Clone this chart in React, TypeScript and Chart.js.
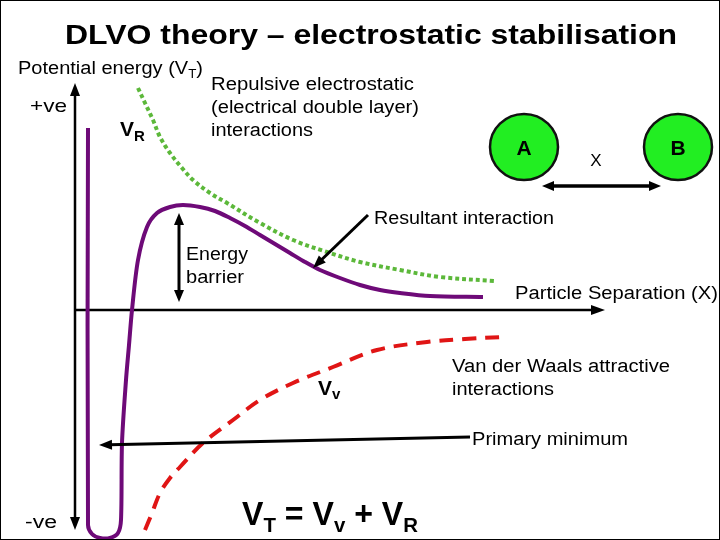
import React, { useEffect, useRef } from "react";
import { Chart, registerables } from "chart.js";
Chart.register(...registerables);

// Data units: x = particle separation, y = potential energy
const resultantX = [0.26, 0.26, 0.34, 0.5, 0.7, 0.86, 0.92, 0.94, 1.02, 1.08, 1.14, 1.26, 1.44, 1.64, 1.9, 2.16, 2.5, 2.8, 3.1, 3.4, 3.7, 4.0, 4.3, 4.6, 4.9, 5.3, 5.7, 6.1, 6.5, 7.1, 8.16];
const resultantY = [3.64, -4.3, -4.48, -4.56, -4.56, -4.46, -4.2, -2.66, -1.4, -0.7, 0, 1.0, 1.66, 1.94, 2.06, 2.1, 2.06, 1.98, 1.84, 1.68, 1.5, 1.32, 1.14, 0.96, 0.8, 0.64, 0.5, 0.4, 0.34, 0.28, 0.26];

const repulsiveX = [1.26, 1.4, 1.56, 1.7, 1.9, 2.14, 2.36, 2.7, 3.04, 3.7, 4.36, 5.04, 5.7, 6.5, 7.3, 8.4];
const repulsiveY = [4.44, 4.14, 3.8, 3.46, 3.14, 2.84, 2.6, 2.34, 2.14, 1.74, 1.4, 1.16, 0.96, 0.8, 0.66, 0.58];

const attractiveX = [1.4, 1.54, 1.7, 1.9, 2.1, 2.56, 3.16, 3.7, 4.36, 5.16, 6.04, 7.04, 7.8, 8.54];
const attractiveY = [-4.4, -4.06, -3.66, -3.36, -3.14, -2.66, -2.2, -1.8, -1.46, -1.14, -0.8, -0.64, -0.58, -0.54];

// Axis extents and annotations (data units)
const xAxisEnd = 10.6;
const yAxisTop = 4.54;
const yAxisBottom = -4.4;
const barrierArrow = { x: 2.08, y1: 1.94, y2: 0.16 };
const resultantArrow = { x1: 5.86, y1: 1.9, x2: 4.76, y2: 0.84 };
const minimumArrow = { x1: 7.9, y1: -2.54, x2: 0.48, y2: -2.7 };

const toPts = (xs: number[], ys: number[]) => xs.map((x, i) => ({ x, y: ys[i] }));

const FONT = '"Liberation Sans", Arial, sans-serif';

type Part = { t: string; size: number; bold?: boolean; dy?: number };

function drawRich(ctx: CanvasRenderingContext2D, parts: Part[], x: number, y: number, align: "left" | "center" = "left", fitWidth?: number) {
  ctx.save();
  ctx.textBaseline = "alphabetic";
  ctx.textAlign = "left";
  let total = 0;
  const widths = parts.map((p) => {
    ctx.font = `${p.bold ? "bold " : ""}${p.size}px ${FONT}`;
    const w = ctx.measureText(p.t).width;
    total += w;
    return w;
  });
  let sx = 1;
  if (fitWidth) sx = fitWidth / total;
  const start = align === "center" ? x - (total * sx) / 2 : x;
  ctx.translate(start, y);
  ctx.scale(sx, 1);
  let cx = 0;
  parts.forEach((p, i) => {
    ctx.font = `${p.bold ? "bold " : ""}${p.size}px ${FONT}`;
    ctx.fillText(p.t, cx, p.dy || 0);
    cx += widths[i];
  });
  ctx.restore();
}

function arrowHead(ctx: CanvasRenderingContext2D, fx: number, fy: number, tx: number, ty: number, len: number, half: number) {
  const a = Math.atan2(ty - fy, tx - fx);
  ctx.beginPath();
  ctx.moveTo(tx, ty);
  ctx.lineTo(tx - len * Math.cos(a) + half * Math.sin(a), ty - len * Math.sin(a) - half * Math.cos(a));
  ctx.lineTo(tx - len * Math.cos(a) - half * Math.sin(a), ty - len * Math.sin(a) + half * Math.cos(a));
  ctx.closePath();
  ctx.fill();
}

function arrow(ctx: CanvasRenderingContext2D, x1: number, y1: number, x2: number, y2: number, w: number, both = false, len = 12, half = 5) {
  const a = Math.atan2(y2 - y1, x2 - x1);
  ctx.lineWidth = w;
  ctx.beginPath();
  const sx = both ? x1 + Math.cos(a) * len * 0.8 : x1;
  const sy = both ? y1 + Math.sin(a) * len * 0.8 : y1;
  ctx.moveTo(sx, sy);
  ctx.lineTo(x2 - Math.cos(a) * len * 0.8, y2 - Math.sin(a) * len * 0.8);
  ctx.stroke();
  arrowHead(ctx, x1, y1, x2, y2, len, half);
  if (both) arrowHead(ctx, x2, y2, x1, y1, len, half);
}

const diagramPlugin = {
  id: "diagram",
  beforeDatasetsDraw(chart: any) {
    const ctx = chart.ctx as CanvasRenderingContext2D;
    const xs = chart.scales.x, ys = chart.scales.y;
    ctx.save();
    ctx.strokeStyle = "#000";
    ctx.fillStyle = "#000";
    const x0 = xs.getPixelForValue(0), y0 = ys.getPixelForValue(0);
    arrow(ctx, x0, ys.getPixelForValue(yAxisBottom), x0, ys.getPixelForValue(yAxisTop), 2.5, true, 13, 5);
    arrow(ctx, x0, y0, xs.getPixelForValue(xAxisEnd), y0, 2.5, false, 14, 5);
    ctx.restore();
  },
  afterDatasetsDraw(chart: any) {
    const ctx = chart.ctx as CanvasRenderingContext2D;
    const xs = chart.scales.x, ys = chart.scales.y;
    const X = (v: number) => xs.getPixelForValue(v);
    const Y = (v: number) => ys.getPixelForValue(v);
    ctx.save();
    ctx.fillStyle = "#000";
    ctx.strokeStyle = "#000";

    arrow(ctx, X(barrierArrow.x), Y(barrierArrow.y1), X(barrierArrow.x), Y(barrierArrow.y2), 3, true, 12, 5);
    arrow(ctx, X(resultantArrow.x1), Y(resultantArrow.y1), X(resultantArrow.x2), Y(resultantArrow.y2), 3, false, 13, 5);
    arrow(ctx, X(minimumArrow.x1), Y(minimumArrow.y1), X(minimumArrow.x2), Y(minimumArrow.y2), 3, false, 13, 5);

    const circles = [{ cx: 524, cy: 147, label: "A" }, { cx: 678, cy: 147, label: "B" }];
    circles.forEach((c) => {
      ctx.beginPath();
      ctx.ellipse(c.cx, c.cy, 34, 33, 0, 0, Math.PI * 2);
      ctx.fillStyle = "#22EE22";
      ctx.fill();
      ctx.lineWidth = 2.5;
      ctx.strokeStyle = "#111";
      ctx.stroke();
      ctx.fillStyle = "#000";
      drawRich(ctx, [{ t: c.label, size: 21, bold: true }], c.cx, c.cy + 7.5, "center");
    });
    ctx.strokeStyle = "#000";
    arrow(ctx, 542, 186, 661, 186, 3.5, true, 12, 5);

    drawRich(ctx, [{ t: "DLVO theory – electrostatic stabilisation", size: 28, bold: true }], 371, 44, "center", 612);
    drawRich(ctx, [{ t: "Potential energy (V", size: 18 }, { t: "T", size: 12, dy: 4 }, { t: ")", size: 18 }], 18, 74, "left", 185);
    drawRich(ctx, [{ t: "+ve", size: 19 }], 30, 112, "left", 37);
    drawRich(ctx, [{ t: "V", size: 21, bold: true }, { t: "R", size: 15, bold: true, dy: 5 }], 120, 136);
    drawRich(ctx, [{ t: "Repulsive electrostatic", size: 18 }], 211, 90, "left", 203);
    drawRich(ctx, [{ t: "(electrical double layer)", size: 18 }], 211, 113, "left", 208);
    drawRich(ctx, [{ t: "interactions", size: 18 }], 211, 136, "left", 102);
    drawRich(ctx, [{ t: "X", size: 17 }], 596, 166, "center");
    drawRich(ctx, [{ t: "Resultant interaction", size: 18 }], 374, 224, "left", 180);
    drawRich(ctx, [{ t: "Energy", size: 18 }], 186, 260, "left", 62);
    drawRich(ctx, [{ t: "barrier", size: 18 }], 186, 283, "left", 58);
    drawRich(ctx, [{ t: "Particle Separation (X)", size: 18 }], 515, 299, "left", 203);
    drawRich(ctx, [{ t: "Van der Waals attractive", size: 18 }], 452, 372, "left", 218);
    drawRich(ctx, [{ t: "interactions", size: 18 }], 452, 395, "left", 102);
    drawRich(ctx, [{ t: "V", size: 21, bold: true }, { t: "v", size: 15, bold: true, dy: 4 }], 318, 395);
    drawRich(ctx, [{ t: "Primary minimum", size: 18 }], 472, 445, "left", 156);
    drawRich(ctx, [{ t: "-ve", size: 18 }], 25, 528, "left", 32);
    drawRich(ctx, [
      { t: "V", size: 33, bold: true }, { t: "T", size: 21, bold: true, dy: 7 },
      { t: " = V", size: 33, bold: true }, { t: "v", size: 21, bold: true, dy: 7 },
      { t: " + V", size: 33, bold: true }, { t: "R", size: 21, bold: true, dy: 7 },
    ], 242, 525, "left", 176);

    ctx.lineWidth = 1;
    ctx.strokeStyle = "#000";
    ctx.strokeRect(0.5, 0.5, 719, 539);
    ctx.restore();
  },
};

export default function App() {
  const ref = useRef<HTMLCanvasElement>(null);
  useEffect(() => {
    document.body.style.margin = "0";
    const chart = new Chart(ref.current!, {
      type: "scatter",
      data: {
        datasets: [
          {
            label: "Repulsive (VR)",
            data: toPts(repulsiveX, repulsiveY),
            showLine: true,
            borderColor: "#5CB83A",
            borderWidth: 4,
            borderDash: [4, 3],
            pointRadius: 0,
            tension: 0.35,
            fill: false,
          },
          {
            label: "Van der Waals (Vv)",
            data: toPts(attractiveX, attractiveY),
            showLine: true,
            borderColor: "#E01515",
            borderWidth: 4,
            borderDash: [14, 9],
            pointRadius: 0,
            tension: 0.35,
            fill: false,
          },
          {
            label: "Resultant (VT)",
            data: toPts(resultantX, resultantY),
            showLine: true,
            borderColor: "#6E0A78",
            borderWidth: 4,
            pointRadius: 0,
            tension: 0.3,
            fill: false,
          },
        ],
      },
      options: {
        animation: false,
        responsive: false,
        maintainAspectRatio: false,
        layout: { padding: 0 },
        plugins: { legend: { display: false }, tooltip: { enabled: false }, title: { display: false } },
        scales: {
          x: { type: "linear", min: -1.5, max: 12.9, display: false },
          y: { type: "linear", min: -4.6, max: 6.2, display: false },
        },
      },
      plugins: [diagramPlugin],
    });
    return () => chart.destroy();
  }, []);
  return (
    <div style={{ position: "absolute", left: 0, top: 0, width: 720, height: 540, background: "#fff" }}>
      <canvas ref={ref} width={720} height={540} />
    </div>
  );
}
